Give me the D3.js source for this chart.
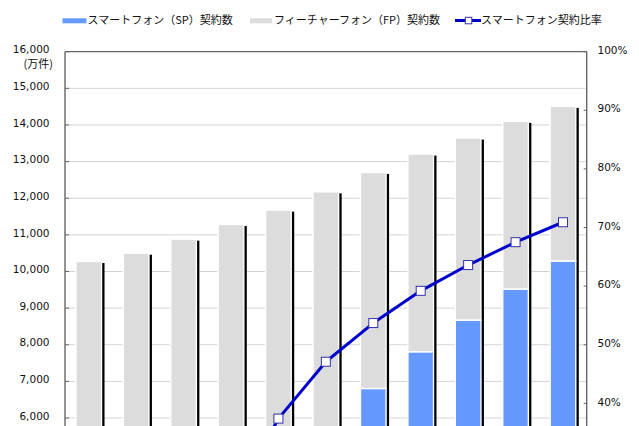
<!DOCTYPE html>
<html>
<head>
<meta charset="utf-8">
<script src="https://cdn.jsdelivr.net/npm/d3@7"></script>
<style>
  html, body { margin: 0; padding: 0; overflow: hidden; background: #fff; }
  svg { display: block; }
</style>
</head>
<body>
<svg id="chart" width="639" height="426"></svg>
<script>
// ---- data (万件 and %) ----
const categories = ["1", "2", "3", "4", "5", "6", "7", "8", "9", "10", "11"];
const spValues = [200, 450, 955, 2522, 4366, 5734, 6803, 7803, 8669, 9516, 10281];
const fpValues = [10073, 10050, 9928, 8762, 7309, 6441, 5901, 5402, 4973, 4582, 4227];
const spRatio = [1.9, 4.3, 8.8, 22.4, 37.4, 47.1, 53.7, 59.2, 63.6, 67.5, 70.9];
const leftTicks = [6000, 7000, 8000, 9000, 10000, 11000, 12000, 13000, 14000, 15000, 16000];
const rightTicks = [40, 50, 60, 70, 80, 90, 100];
const legendLabels = ["スマートフォン（SP）契約数", "フィーチャーフォン（FP）契約数", "スマートフォン契約比率"];
const unitLabel = "(万件)";

// ---- layout ----
const plotL = 65, plotR = 586.7, plotT = 51.7, zeroY = 637.8;
const svg = d3.select("#chart");
const numFont = "'DejaVu Sans', Verdana, sans-serif";
const jpFont = "'Noto Sans CJK JP', 'Noto Sans', sans-serif";

const x = d3.scaleBand().domain(categories).range([plotL, plotR]).paddingInner(0.46).paddingOuter(0.23);
const y = d3.scaleLinear().domain([0, 16000]).range([zeroY, plotT]);
const y2 = d3.scaleLinear().domain([0, 100]).range([zeroY, plotT]);

// gridlines
svg.append("g").selectAll("line").data(leftTicks.filter(t => t < 16000)).join("line")
  .attr("x1", plotL).attr("x2", plotR)
  .attr("y1", d => y(d)).attr("y2", d => y(d))
  .attr("stroke", "#d4d4d4").attr("stroke-width", 1);

// bars
const rows = categories.map((c, i) => ({ c, sp: spValues[i], fp: fpValues[i], total: spValues[i] + fpValues[i] }));
const bw = x.bandwidth();
// shadow
svg.append("g").selectAll("rect").data(rows).join("rect")
  .attr("x", d => x(d.c) + 3).attr("y", d => y(d.total) + 1.5)
  .attr("width", bw).attr("height", d => zeroY - y(d.total))
  .attr("fill", "#000");
// FP (stacked above SP)
svg.append("g").selectAll("rect").data(rows).join("rect")
  .attr("x", d => x(d.c)).attr("y", d => y(d.total))
  .attr("width", bw).attr("height", d => y(d.sp) - y(d.total))
  .attr("fill", "#dcdcdc").attr("stroke", "#fff").attr("stroke-width", 1.4);
// SP
svg.append("g").selectAll("rect").data(rows).join("rect")
  .attr("x", d => x(d.c)).attr("y", d => y(d.sp))
  .attr("width", bw).attr("height", d => zeroY - y(d.sp))
  .attr("fill", "#6699ff").attr("stroke", "#fff").attr("stroke-width", 1.4);

// frame lines
const axisColor = "#666";
svg.append("line").attr("x1", plotL).attr("x2", plotR).attr("y1", plotT).attr("y2", plotT)
  .attr("stroke", axisColor).attr("stroke-width", 1.2);
svg.append("line").attr("x1", plotL).attr("x2", plotL).attr("y1", plotT).attr("y2", zeroY)
  .attr("stroke", axisColor).attr("stroke-width", 1.4);
svg.append("line").attr("x1", plotR).attr("x2", plotR).attr("y1", plotT).attr("y2", zeroY)
  .attr("stroke", axisColor).attr("stroke-width", 1.4);

// left axis ticks + labels
const gl = svg.append("g");
gl.selectAll("line").data(leftTicks).join("line")
  .attr("x1", plotL).attr("x2", plotL + 4).attr("y1", d => y(d)).attr("y2", d => y(d))
  .attr("stroke", axisColor).attr("stroke-width", 1);
gl.selectAll("text").data(leftTicks).join("text")
  .attr("x", 49.5).attr("y", d => y(d) - 2).attr("dy", "0.35em")
  .attr("text-anchor", "end").attr("font-family", numFont).attr("font-size", 10.5)
  .attr("fill", "#111").text(d => d3.format(",")(d));
svg.append("text").attr("x", 53).attr("y", y(16000) + 12.5).attr("dy", "0.35em")
  .attr("text-anchor", "end").attr("font-family", jpFont).attr("font-size", 11)
  .attr("fill", "#111").text(unitLabel);

// right axis ticks + labels
const gr = svg.append("g");
gr.selectAll("line").data(rightTicks).join("line")
  .attr("x1", plotR - 3).attr("x2", plotR).attr("y1", d => y2(d)).attr("y2", d => y2(d))
  .attr("stroke", axisColor).attr("stroke-width", 1);
gr.selectAll("text").data(rightTicks).join("text")
  .attr("x", 597.5).attr("y", d => y2(d) - 1.5).attr("dy", "0.35em")
  .attr("text-anchor", "start").attr("font-family", numFont).attr("font-size", 10.5)
  .attr("fill", "#111").text(d => d + "%");

// ratio line
const cx = c => x(c) + bw / 2;
const line = d3.line().x((d, i) => cx(categories[i])).y(d => y2(d));
svg.append("path").datum(spRatio).attr("d", line)
  .attr("fill", "none").attr("stroke", "#0000cc").attr("stroke-width", 3).attr("stroke-linejoin", "round");
const ms = 9;
svg.append("g").selectAll("rect").data(spRatio).join("rect")
  .attr("x", (d, i) => cx(categories[i]) - ms / 2).attr("y", d => y2(d) - ms / 2)
  .attr("width", ms).attr("height", ms)
  .attr("fill", "#fff").attr("stroke", "#3333aa").attr("stroke-width", 1);

// legend
const lg = svg.append("g");
lg.append("rect").attr("x", 62.5).attr("y", 18.3).attr("width", 24).attr("height", 5).attr("fill", "#6699ff");
lg.append("text").attr("x", 87.5).attr("y", 20.5).attr("dy", "0.35em")
  .attr("font-family", jpFont).attr("font-size", 11).attr("fill", "#111").text(legendLabels[0]);
lg.append("rect").attr("x", 250).attr("y", 18.3).attr("width", 22).attr("height", 5).attr("fill", "#dcdcdc");
lg.append("text").attr("x", 274).attr("y", 20.5).attr("dy", "0.35em")
  .attr("font-family", jpFont).attr("font-size", 11).attr("fill", "#111").text(legendLabels[1]);
lg.append("line").attr("x1", 455).attr("x2", 481).attr("y1", 20.5).attr("y2", 20.5)
  .attr("stroke", "#0000cc").attr("stroke-width", 3);
lg.append("rect").attr("x", 465.3).attr("y", 17.3).attr("width", 6.5).attr("height", 6.5)
  .attr("fill", "#fff").attr("stroke", "#3333aa").attr("stroke-width", 1);
lg.append("text").attr("x", 481).attr("y", 20.5).attr("dy", "0.35em")
  .attr("font-family", jpFont).attr("font-size", 11).attr("fill", "#111").text(legendLabels[2]);
</script>
</body>
</html>
